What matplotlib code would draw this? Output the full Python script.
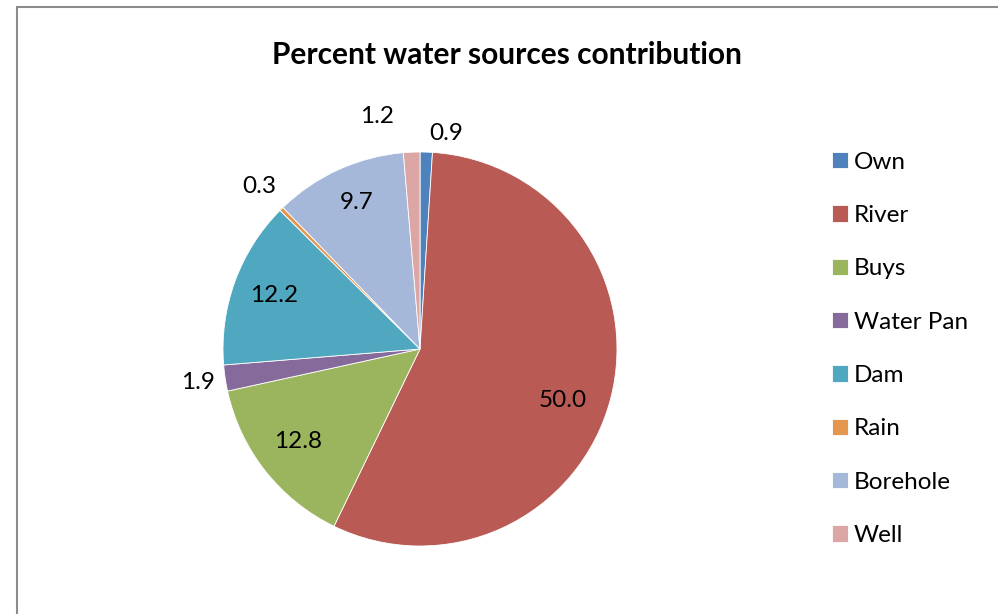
import numpy as np
import matplotlib.pyplot as plt
from matplotlib.patches import Rectangle

# data
sources = ['Own', 'River', 'Buys', 'Water Pan', 'Dam', 'Rain', 'Borehole', 'Well']
values = [0.9, 50.0, 12.8, 1.9, 12.2, 0.3, 9.7, 1.2]
colors = ['#4F81BD', '#B95A54', '#9BB45E', '#866A9C', '#4FA8C0', '#E4954E', '#A5B8D9', '#DBA6A4']

# label placement (radius as fraction of pie radius, angle nudge in degrees)
label_r = [1.10, 0.77, 0.78, 1.14, 0.79, 1.16, 0.81, 1.20]
label_nudge = [5, 5, 1, 0, 0, 0, 1, -8]

plt.rcParams['font.family'] = ['Lato', 'DejaVu Sans']

fig = plt.figure(figsize=(9.98, 6.14), dpi=100)
W, H = 998, 614
cx, cy, R = 420, 349, 197
ax = fig.add_axes([(cx - R) / W, (H - cy - R) / H, 2 * R / W, 2 * R / H])

wedges, _ = ax.pie(values, colors=colors, startangle=90, counterclock=False,
                   radius=1, wedgeprops=dict(edgecolor='white', linewidth=0.6))
ax.set_xlim(-1, 1)
ax.set_ylim(-1, 1)
ax.set_aspect('equal')
ax.axis('off')

# data labels
total = sum(values)
cum = np.cumsum(values) - np.array(values) / 2
for v, c, r, nd in zip(values, cum, label_r, label_nudge):
    theta = np.deg2rad(360 * c / total + nd)
    ax.text(r * np.sin(theta), r * np.cos(theta), f'{v:.1f}',
            ha='center', va='center', fontsize=17.5, color='black', clip_on=False)

fig.text(507 / W, 1 - 55 / H, 'Percent water sources contribution',
         ha='center', va='center', fontsize=21.5, fontweight='bold')

fig.legend(wedges, sources, loc='upper left', bbox_to_anchor=(822 / W, 1 - 142 / H),
           frameon=False, fontsize=17.5, handlelength=0.66, handleheight=0.66,
           handletextpad=0.25, labelspacing=1.33, borderaxespad=0)

# chart area border
fig.patches.append(Rectangle((17 / W, -0.1), 1.1, 1.1 - 7 / H,
                             transform=fig.transFigure, fill=False,
                             edgecolor='#8C8C8C', linewidth=1.5))

fig.savefig('out.png', dpi=100)
